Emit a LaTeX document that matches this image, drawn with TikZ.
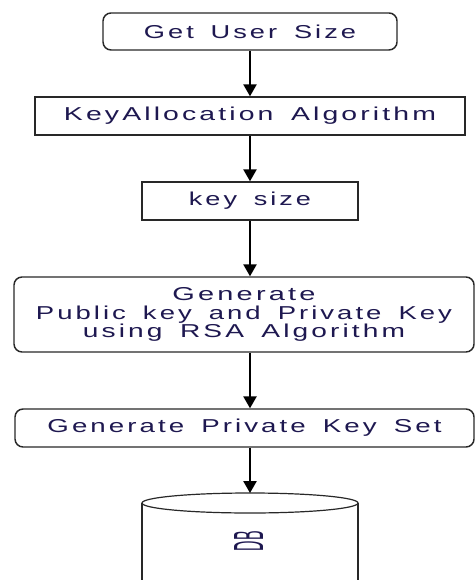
\documentclass[tikz,border=0pt]{standalone}
\usepackage{fontspec}
\setmainfont{Liberation Sans}
\newfontfamily\boxfont{Liberation Sans}[LetterSpace=11,WordSpace=1.6]
\usetikzlibrary{arrows.meta}
\newlength\pxu \setlength\pxu{0.75pt}
\definecolor{txt}{RGB}{30,24,80}
\definecolor{ln}{RGB}{40,40,40}
\newcommand\wt[2]{\resizebox{#1\pxu}{\height}{#2}}
\begin{document}
\begin{tikzpicture}[x=0.75pt,y=-0.75pt,
  box/.style={draw=ln, line width=1.1pt, fill=white, inner sep=0pt, text=txt,
    font=\boxfont\fontsize{14}{14}\selectfont, align=center},
  rbox/.style={box, rounded corners=6pt},
  arr/.style={draw=black, line width=1.2pt, -{Triangle[width=10pt,length=9pt]}},
  cyl/.style={draw=ln, line width=1.1pt}]
\fill[white, use as bounding box] (0,0) rectangle (475,580);
\clip (0,0) rectangle (475,580);
\node[rbox, minimum width=294\pxu, minimum height=37\pxu] (n1) at (250,31.5) {\wt{212}{Get User Size}};
\node[box, minimum width=430\pxu, minimum height=38\pxu] (n2) at (250,116) {\wt{372}{KeyAllocation Algorithm}};
\node[box, minimum width=216\pxu, minimum height=38\pxu] (n3) at (250,201) {\wt{122}{key size}};
\node[rbox, minimum width=460\pxu, minimum height=75\pxu] (n4) at (244,314.5) {\wt{143}{Generate}\\\wt{416}{Public key and Private Key}\\\wt{322}{using RSA Algorithm}};
\node[rbox, minimum width=459\pxu, minimum height=38\pxu] (n5) at (244.5,428) {\wt{394}{Generate Private Key Set}};
% database cylinder (bottom cut off by the picture edge)
\draw[cyl, fill=white] (142,503) -- (142,590) -- (358,590) -- (358,503);
\draw[cyl, line width=0.9pt, fill=white] (250,503) ellipse [x radius=81pt, y radius=7.5pt];
\coordinate (dbtop) at (250,493);
\node[text=txt, rotate=90, inner sep=0pt, font=\fontsize{14}{14}\selectfont] (db) at (248.5,541) {\resizebox{20\pxu}{29\pxu}{DB}};
\coordinate (ax) at (250,0);
\draw[arr] (n1) -- (n2);
\draw[arr] (n2) -- (n3);
\draw[arr] (n3.south) -- (ax |- n4.north);
\draw[arr] (ax |- n4.south) -- (ax |- n5.north);
\draw[arr] (ax |- n5.south) -- (dbtop);
\end{tikzpicture}
\end{document}
